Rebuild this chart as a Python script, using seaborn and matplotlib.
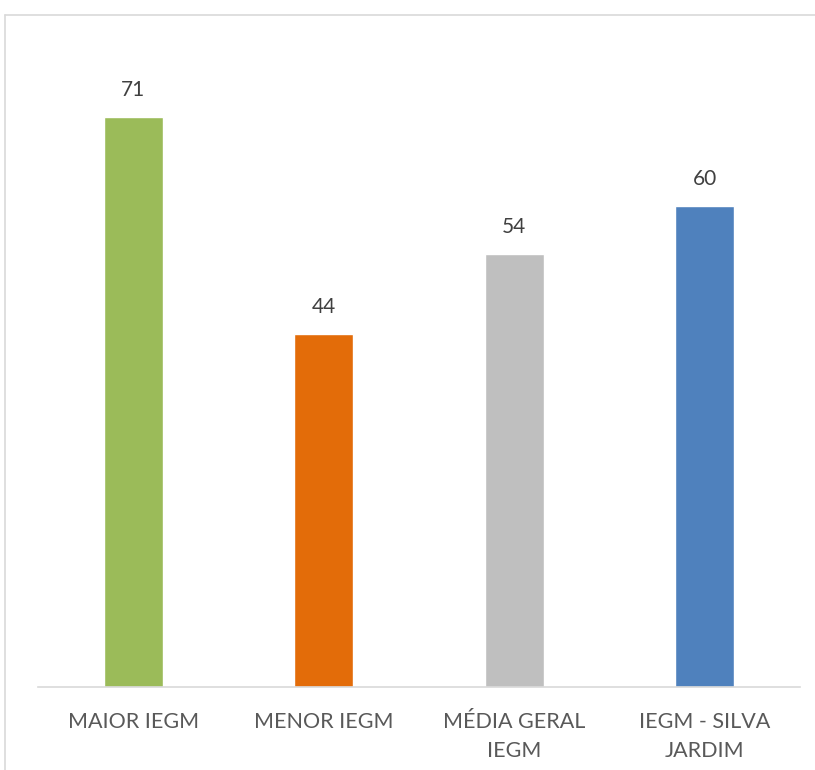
import matplotlib
matplotlib.use("Agg")
import matplotlib.pyplot as plt
from matplotlib.lines import Line2D
import seaborn as sns

categories = ["MAIOR IEGM", "MENOR IEGM", "MÉDIA GERAL\nIEGM", "IEGM - SILVA\nJARDIM"]
values = [71, 44, 54, 60]
colors = ["#9BBB59", "#E36C09", "#BFBFBF", "#4F81BD"]

sns.set_style("white")
plt.rcParams["font.family"] = ["Lato", "DejaVu Sans"]

fig = plt.figure(figsize=(8.15, 7.7), dpi=100)
ax = fig.add_axes([38 / 815, 83 / 770, 762 / 815, 642 / 770])

sns.barplot(x=categories, y=values, hue=categories, palette=colors,
            width=0.31, legend=False, ax=ax, saturation=1)

for i, v in enumerate(values):
    ax.text(i, v + 2.1, str(v), ha="center", va="bottom",
            fontsize=15, color="#404040")

ax.set_ylim(0, 80)
ax.set_xlim(-0.5, 3.5)
ax.set_yticks([])
ax.set_xlabel("")
ax.set_ylabel("")
for s in ["top", "right", "left"]:
    ax.spines[s].set_visible(False)
ax.spines["bottom"].set_color("#D9D9D9")
ax.spines["bottom"].set_linewidth(1.2)
ax.tick_params(axis="x", length=0, pad=18, labelsize=15.5, labelcolor="#595959")
for lbl in ax.get_xticklabels():
    lbl.set_linespacing(1.55)
    lbl.set_va("top")

# outer chart frame (only left and top visible in the crop)
fig.add_artist(Line2D([5 / 815, 5 / 815], [0, 1 - 15 / 770], color="#D9D9D9", lw=1.2))
fig.add_artist(Line2D([5 / 815, 1], [1 - 15 / 770, 1 - 15 / 770], color="#D9D9D9", lw=1.2))

fig.savefig("out.png", dpi=100)
